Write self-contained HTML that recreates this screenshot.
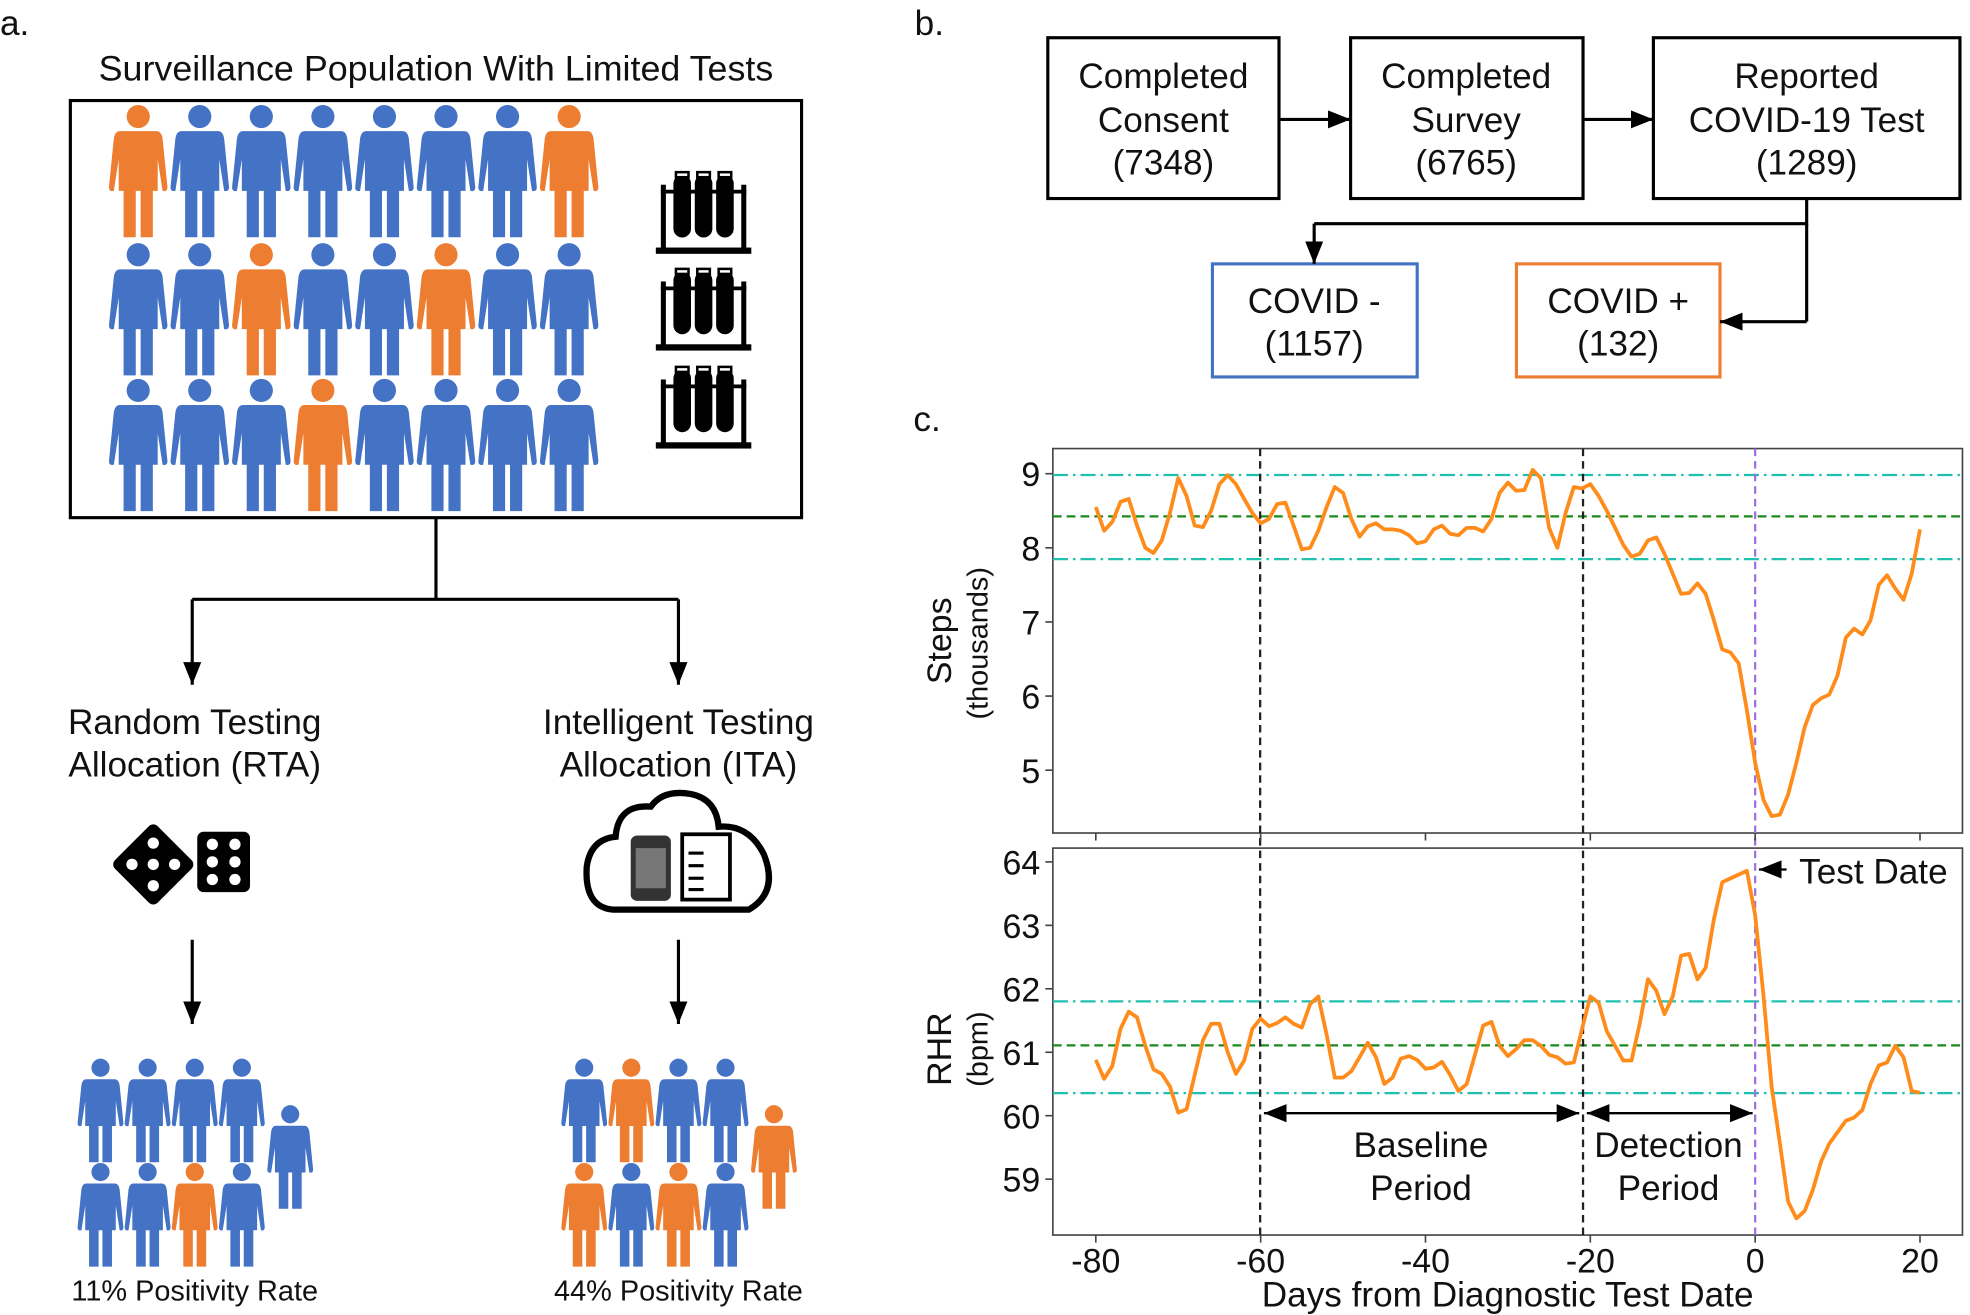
<!DOCTYPE html>
<html><head><meta charset="utf-8"><style>
html,body{margin:0;padding:0;background:#fff;}
svg{display:block;}
text{font-family:"Liberation Sans",sans-serif;fill:#111;}
</style></head><body>
<svg id="s" width="1970" height="1315" viewBox="0 0 1568 1046.6" xmlns="http://www.w3.org/2000/svg">
<defs>
<g id="p">
<circle cx="0" cy="9" r="9.5"/>
<path d="M-15 21 L15 21 Q19 21 20 27 L24 67 Q24 71 20 70 L16 44 L16 70 L12 70 L12 108 L2 108 L2 70 L-2 70 L-2 108 L-12 108 L-12 70 L-16 70 L-16 44 L-20 70 Q-24 71 -24 67 L-20 27 Q-19 21 -15 21 Z"/>
</g>
<g id="tube">
<rect x="0" y="60" width="76" height="5" fill="#000"/>
<rect x="4" y="10" width="4" height="52" fill="#000"/>
<rect x="68" y="10" width="4" height="52" fill="#000"/>
<rect x="4" y="14" width="68" height="3" fill="#000"/>
<rect x="14" y="2" width="14" height="50" rx="7" fill="#000"/>
<rect x="31" y="2" width="14" height="50" rx="7" fill="#000"/>
<rect x="48" y="2" width="14" height="50" rx="7" fill="#000"/>
<rect x="16" y="0" width="10" height="4" fill="#fff" stroke="#000" stroke-width="2"/>
<rect x="33" y="0" width="10" height="4" fill="#fff" stroke="#000" stroke-width="2"/>
<rect x="50" y="0" width="10" height="4" fill="#fff" stroke="#000" stroke-width="2"/>
</g>
<marker id="ah2" viewBox="0 0 10 10" refX="10" refY="5" markerWidth="18" markerHeight="18" orient="auto-start-reverse" markerUnits="userSpaceOnUse"><path d="M0 1 L10 5 L0 9 Z" fill="#000"/></marker>
</defs>

<text x="0" y="28" font-size="28">a.</text>
<text x="728" y="28" font-size="28">b.</text>
<text x="727" y="343" font-size="28">c.</text>

<!-- panel a -->
<text x="347" y="64" font-size="28" text-anchor="middle" textLength="537" lengthAdjust="spacingAndGlyphs">Surveillance Population With Limited Tests</text>
<rect x="56" y="80" width="582" height="332" fill="none" stroke="#000" stroke-width="2.5"/>
<g id="bigppl"></g>
<use href="#tube" x="522" y="137"/>
<use href="#tube" x="522" y="214"/>
<use href="#tube" x="522" y="292"/>
<path d="M347 412 V477 M153 477 H540" stroke="#000" stroke-width="2.5" fill="none"/>
<line x1="153" y1="477" x2="153" y2="545" stroke="#000" stroke-width="2.5" marker-end="url(#ah2)"/>
<line x1="540" y1="477" x2="540" y2="545" stroke="#000" stroke-width="2.5" marker-end="url(#ah2)"/>
<g font-size="28" text-anchor="middle">
<text x="155" y="584">Random Testing</text>
<text x="155" y="618">Allocation (RTA)</text>
<text x="540" y="584">Intelligent Testing</text>
<text x="540" y="618">Allocation (ITA)</text>
</g>
<!-- dice -->
<g transform="translate(122,688) rotate(45)"><rect x="-24" y="-24" width="48" height="48" rx="5" fill="#000"/>
<g fill="#fff"><circle cx="-12" cy="-12" r="4.5"/><circle cx="12" cy="-12" r="4.5"/><circle cx="0" cy="0" r="4.5"/><circle cx="-12" cy="12" r="4.5"/><circle cx="12" cy="12" r="4.5"/></g></g>
<rect x="157" y="662" width="42" height="48" rx="5" fill="#000"/>
<g fill="#fff"><circle cx="169" cy="672" r="4.5"/><circle cx="187" cy="672" r="4.5"/><circle cx="169" cy="686" r="4.5"/><circle cx="187" cy="686" r="4.5"/><circle cx="169" cy="700" r="4.5"/><circle cx="187" cy="700" r="4.5"/></g>
<!-- cloud -->
<path d="M488 724 Q465 722 467 690 Q470 668 490 666 Q492 640 518 642 Q528 628 550 632 Q570 636 572 658 Q596 656 608 680 Q620 710 596 724 Z" fill="#fff" stroke="#000" stroke-width="5"/>
<rect x="502" y="665" width="32" height="52" rx="5" fill="#333"/>
<rect x="506" y="675" width="24" height="32" fill="#777"/>
<rect x="543" y="664" width="38" height="52" fill="#fff" stroke="#000" stroke-width="3"/>
<g stroke="#000" stroke-width="2.5"><line x1="548" y1="679" x2="560" y2="679"/><line x1="548" y1="689" x2="560" y2="689"/><line x1="548" y1="699" x2="560" y2="699"/><line x1="548" y1="708" x2="560" y2="708"/></g>
<line x1="153" y1="748" x2="153" y2="815" stroke="#000" stroke-width="2.5" marker-end="url(#ah2)"/>
<line x1="540" y1="748" x2="540" y2="815" stroke="#000" stroke-width="2.5" marker-end="url(#ah2)"/>
<g id="smallppl"></g>
<g font-size="23" text-anchor="middle">
<text x="155" y="1035">11% Positivity Rate</text>
<text x="540" y="1035">44% Positivity Rate</text>
</g>

<!-- panel b -->
<g fill="none" stroke="#000" stroke-width="2.5">
<rect x="834" y="30" width="184" height="128"/>
<rect x="1075" y="30" width="185" height="128"/>
<rect x="1316" y="30" width="244" height="128"/>
<rect x="965" y="210" width="163" height="90" stroke="#4472C4"/>
<rect x="1207" y="210" width="162" height="90" stroke="#ED7D31"/>
</g>
<g stroke="#000" stroke-width="2.5" fill="none">
<line x1="1018" y1="95" x2="1075" y2="95" marker-end="url(#ah2)"/>
<line x1="1260" y1="95" x2="1316" y2="95" marker-end="url(#ah2)"/>
<path d="M1438 158 V178 H1046"/>
<line x1="1046" y1="178" x2="1046" y2="210" marker-end="url(#ah2)"/>
<path d="M1438 178 V256"/>
<line x1="1438" y1="256" x2="1369" y2="256" marker-end="url(#ah2)"/>
</g>
<g font-size="28" text-anchor="middle">
<text x="926" y="70">Completed</text><text x="926" y="105">Consent</text><text x="926" y="139">(7348)</text>
<text x="1167" y="70">Completed</text><text x="1167" y="105">Survey</text><text x="1167" y="139">(6765)</text>
<text x="1438" y="70">Reported</text><text x="1438" y="105">COVID-19 Test</text><text x="1438" y="139">(1289)</text>
<text x="1046" y="249">COVID -</text><text x="1046" y="283">(1157)</text>
<text x="1288" y="249">COVID +</text><text x="1288" y="283">(132)</text>
</g>

<!-- panel c -->
<rect x="838" y="357" width="724" height="306" fill="none" stroke="#444" stroke-width="1.3"/>
<rect x="838" y="675" width="724" height="308" fill="none" stroke="#444" stroke-width="1.3"/>
<g stroke-width="1.8" fill="none">
<line x1="838" x2="1562" y1="378" y2="378" stroke="#20c0b0" stroke-dasharray="12,4,2,4"/>
<line x1="838" x2="1562" y1="445" y2="445" stroke="#20c0b0" stroke-dasharray="12,4,2,4"/>
<line x1="838" x2="1562" y1="411" y2="411" stroke="#1a8a1a" stroke-dasharray="7,4"/>
<line x1="838" x2="1562" y1="797" y2="797" stroke="#20c0b0" stroke-dasharray="12,4,2,4"/>
<line x1="838" x2="1562" y1="870" y2="870" stroke="#20c0b0" stroke-dasharray="12,4,2,4"/>
<line x1="838" x2="1562" y1="832" y2="832" stroke="#1a8a1a" stroke-dasharray="7,4"/>
<line x1="1003" x2="1003" y1="357" y2="983" stroke="#222" stroke-dasharray="6,4"/>
<line x1="1260" x2="1260" y1="357" y2="983" stroke="#222" stroke-dasharray="6,4"/>
<line x1="1397" x2="1397" y1="357" y2="983" stroke="#a070e0" stroke-dasharray="6,4"/>
</g>
<polyline id="steps" fill="none" stroke="#FF8C1A" stroke-width="3" stroke-linejoin="round"/>
<polyline id="rhr" fill="none" stroke="#FF8C1A" stroke-width="3" stroke-linejoin="round"/>
<g stroke="#000" stroke-width="1.8">
<line x1="1006" y1="886" x2="1257" y2="886" marker-start="url(#ah2)" marker-end="url(#ah2)"/>
<line x1="1263" y1="886" x2="1395" y2="886" marker-start="url(#ah2)" marker-end="url(#ah2)"/>
<line x1="1422" y1="692" x2="1400" y2="692" marker-end="url(#ah2)"/>
</g>
<g font-size="28" text-anchor="middle">
<text x="1131" y="921">Baseline</text><text x="1131" y="955">Period</text>
<text x="1328" y="921">Detection</text><text x="1328" y="955">Period</text>
</g>
<text x="1432" y="703" font-size="28">Test Date</text>
<g id="ticks" stroke="#444" stroke-width="1.3"></g>
<g font-size="27" text-anchor="end" id="yl"></g>
<g font-size="27" text-anchor="middle" id="xl"></g>
<text x="1200" y="1040" font-size="28" text-anchor="middle">Days from Diagnostic Test Date</text>
<text transform="translate(757,510) rotate(-90)" font-size="27" text-anchor="middle">Steps</text>
<text transform="translate(786,512) rotate(-90)" font-size="23" text-anchor="middle">(thousands)</text>
<text transform="translate(757,835) rotate(-90)" font-size="27" text-anchor="middle">RHR</text>
<text transform="translate(786,835) rotate(-90)" font-size="23" text-anchor="middle">(bpm)</text>
</svg>
<script>
var NS="http://www.w3.org/2000/svg",B="#4472C4",O="#ED7D31";
function el(t,a,p){var e=document.createElementNS(NS,t);for(var k in a)e.setAttribute(k,a[k]);if(p)document.getElementById(p).appendChild(e);return e;}
function person(x,y,s,c,p){el("use",{href:"#p",fill:c,transform:"translate("+x+","+y+") scale("+s+")"},p);}
var rows=[[84,[0,7]],[194,[2,5]],[302,[3]]];
rows.forEach(function(r){for(var i=0;i<8;i++)person(110+i*49,r[0],0.97,r[1].indexOf(i)>=0?O:B,"bigppl");});
var ss=0.76;
for(var i=0;i<4;i++){person(80+i*37.5,843,ss,B,"smallppl");person(80+i*37.5,926,ss,i==2?O:B,"smallppl");}
person(231,880,ss,B,"smallppl");
var o1=[1],o2=[0,2];
for(var i=0;i<4;i++){person(465+i*37.5,843,ss,o1.indexOf(i)>=0?O:B,"smallppl");person(465+i*37.5,926,ss,o2.indexOf(i)>=0?O:B,"smallppl");}
person(616,880,ss,O,"smallppl");
var st=[8.55,8.23,8.35,8.62,8.66,8.3,8.0,7.93,8.1,8.47,8.94,8.7,8.3,8.28,8.5,8.86,8.98,8.86,8.66,8.47,8.33,8.39,8.59,8.61,8.3,7.98,8.0,8.23,8.55,8.82,8.74,8.39,8.15,8.29,8.33,8.25,8.25,8.23,8.17,8.06,8.09,8.25,8.3,8.19,8.17,8.27,8.27,8.22,8.39,8.74,8.88,8.77,8.78,9.05,8.94,8.27,8.0,8.47,8.82,8.8,8.86,8.7,8.5,8.27,8.04,7.88,7.92,8.1,8.14,7.92,7.65,7.38,7.39,7.52,7.38,7.02,6.63,6.59,6.44,5.81,5.1,4.6,4.38,4.4,4.67,5.1,5.58,5.88,5.97,6.02,6.28,6.79,6.91,6.83,7.02,7.5,7.63,7.45,7.3,7.65,8.25];
var rh=[60.88,60.58,60.78,61.37,61.64,61.55,61.1,60.73,60.66,60.46,60.05,60.1,60.64,61.19,61.45,61.45,61.0,60.66,60.87,61.37,61.53,61.41,61.46,61.55,61.45,61.39,61.76,61.88,61.28,60.6,60.6,60.7,60.92,61.15,60.92,60.5,60.6,60.9,60.94,60.88,60.74,60.76,60.85,60.64,60.39,60.5,60.96,61.42,61.48,61.1,60.94,61.05,61.19,61.19,61.1,60.96,60.92,60.82,60.84,61.37,61.88,61.78,61.33,61.1,60.87,60.87,61.46,62.15,61.97,61.6,61.88,62.52,62.55,62.15,62.33,63.1,63.68,63.74,63.8,63.86,63.16,61.9,60.46,59.56,58.65,58.38,58.5,58.83,59.28,59.56,59.74,59.92,59.97,60.09,60.5,60.79,60.84,61.1,60.92,60.39,60.36];
function X(d){return 1397+6.56*d;}
document.getElementById("steps").setAttribute("points",st.map(function(v,i){return X(i-80).toFixed(1)+","+(377+(9-v)*59).toFixed(1);}).join(" "));
document.getElementById("rhr").setAttribute("points",rh.map(function(v,i){return X(i-80).toFixed(1)+","+(686+(64-v)*50.5).toFixed(1);}).join(" "));
[-80,-60,-40,-20,0,20].forEach(function(d){var x=X(d);el("line",{x1:x,x2:x,y1:663,y2:669},"ticks");el("line",{x1:x,x2:x,y1:983,y2:989},"ticks");var t=el("text",{x:x,y:1013},"xl");t.textContent=d;});
[9,8,7,6,5].forEach(function(v){var y=377+(9-v)*59;el("line",{x1:832,x2:838,y1:y,y2:y},"ticks");var t=el("text",{x:828,y:y+10},"yl");t.textContent=v;});
[64,63,62,61,60,59].forEach(function(v){var y=686+(64-v)*50.5;el("line",{x1:832,x2:838,y1:y,y2:y},"ticks");var t=el("text",{x:828,y:y+10},"yl");t.textContent=v;});
</script>
</body></html>
